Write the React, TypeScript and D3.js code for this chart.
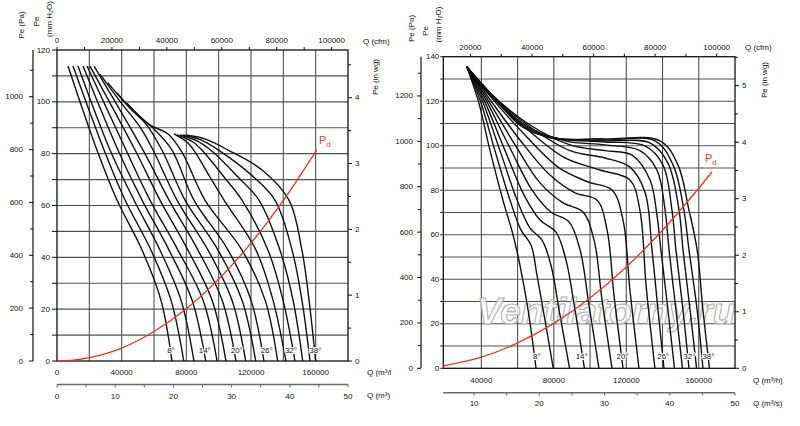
import React, { useEffect, useRef } from 'react';
import * as d3 from 'd3';

type Pt = [number, number];

// blade angles of the curve family (one curve per angle, left and right chart)
const bladeAngles = [8, 10, 12, 14, 16, 18, 20, 22, 24, 26, 28, 30, 32, 34, 36, 38];
const angleLabels = ['8°', '14°', '20°', '26°', '32°', '38°'];

// Q in 1000 m3/h, Pe in mm H2O
const leftCurves: Pt[][] = [
  [[6.8, 113.8], [24.7, 81.4], [37.1, 62.1], [52.6, 42.8], [64.3, 23.5], [71.1, 0]],
  [[9.9, 113.8], [29.1, 81.4], [42.1, 62.1], [58.1, 42.8], [70.5, 23.5], [78.4, 0]],
  [[13.0, 113.8], [32.8, 81.4], [47.6, 62.1], [63.7, 42.8], [76.7, 23.5], [84.7, 0]],
  [[16.1, 113.8], [37.7, 81.4], [52.6, 62.1], [69.3, 42.8], [83.5, 23.5], [92.0, 0]],
  [[18.6, 113.8], [42.7, 81.4], [57.5, 62.1], [74.8, 42.8], [90.3, 23.5], [99.0, 0]],
  [[20.4, 113.8], [48.3, 81.4], [63.7, 62.1], [81.0, 42.8], [95.9, 23.5], [104.5, 0]],
  [[22.9, 113.8], [53.2, 81.4], [69.3, 62.1], [87.2, 42.8], [102.1, 23.5], [110.7, 0]],
  [[26.6, 110.7], [40.2, 99.2], [51.3, 90.3], [59.4, 81.4], [74.2, 62.1], [93.4, 42.8], [108.2, 23.5], [116.7, 0]],
  [[31.5, 107.3], [43.9, 98.4], [55.1, 91.4], [64.9, 81.4], [79.2, 62.1], [99.6, 42.8], [114.4, 23.5], [122.9, 0]],
  [[37.1, 103.4], [48.9, 95.3], [60.6, 89.1], [71.1, 81.4], [84.7, 62.1], [105.8, 42.8], [120.0, 23.5], [128.0, 0]],
  [[43.3, 99.5], [57.5, 91.1], [68.7, 87.6], [77.3, 80.6], [91.5, 62.1], [114.4, 42.8], [128.7, 23.5], [136.5, 0]],
  [[72.4, 87.6], [81.0, 84.1], [85.4, 80.6], [94.6, 71.0], [103.3, 62.1], [123.1, 42.8], [133.6, 23.5], [141.6, 0]],
  [[74.2, 87.2], [84.1, 84.5], [90.3, 80.9], [103.3, 71.0], [114.4, 62.1], [130.5, 42.8], [139.8, 23.5], [147.2, 0]],
  [[76.1, 87.2], [86.6, 84.9], [95.9, 80.9], [111.3, 71.4], [124.9, 62.1], [137.9, 42.8], [146.0, 23.5], [152.0, 0]],
  [[77.9, 87.2], [89.1, 85.3], [100.8, 81.0], [119.4, 72.2], [134.8, 62.1], [145.4, 42.8], [151.5, 23.5], [156.5, 0]],
  [[79.8, 87.2], [91.5, 85.7], [105.8, 81.4], [126.8, 73.7], [143.5, 62.1], [151.5, 42.8], [155.9, 23.5], [160.0, 0]],
];

// right chart: most curves leave from one common point
const S: Pt = [31.9, 135.5];
const rightCurves: Pt[][] = [
  [S, [38.2, 120.5], [44.8, 97.8], [51.9, 75.6], [57.5, 59.9], [61.3, 46.4], [65.8, 26.2], [70.2, 0]],
  [S, [39.3, 120.5], [47.5, 97.8], [55.8, 75.6], [61.9, 62.1], [67.4, 55.4], [70.7, 41.9], [75.1, 21.7], [79.7, 0]],
  [S, [40.4, 120.5], [50.3, 97.8], [59.7, 75.6], [66.9, 63.0], [73.5, 57.6], [78.4, 46.4], [83.4, 23.9], [88.7, 0]],
  [S, [41.5, 120.5], [53.1, 97.8], [63.5, 77.9], [72.4, 66.6], [81.2, 61.2], [86.7, 48.7], [91.7, 26.2], [96.9, 0]],
  [S, [42.6, 120.5], [55.8, 99.0], [68.0, 80.1], [78.4, 70.2], [88.4, 65.8], [94.5, 53.2], [99.4, 28.4], [104.9, 0]],
  [S, [43.7, 120.5], [58.6, 100.4], [72.4, 83.3], [85.1, 74.3], [96.1, 70.2], [102.2, 57.6], [106.6, 30.7], [112.1, 0]],
  [S, [44.2, 121.4], [61.3, 102.6], [77.9, 86.8], [91.7, 78.8], [103.8, 75.6], [109.4, 62.1], [113.2, 32.9], [118.2, 0]],
  [S, [44.8, 122.3], [64.1, 104.8], [82.3, 90.4], [98.9, 83.7], [112.1, 80.1], [118.2, 66.6], [122.0, 35.2], [127.0, 0]],
  [S, [44.8, 122.8], [65.8, 107.1], [86.2, 94.5], [105.5, 89.1], [122.0, 84.6], [127.5, 71.1], [130.9, 37.4], [135.8, 0]],
  [S, [44.8, 123.3], [66.9, 108.4], [88.9, 97.8], [108.2, 94.5], [122.0, 90.4], [130.3, 79.2], [134.2, 53.2], [137.5, 26.2], [140.8, 0]],
  [S, [44.8, 123.7], [66.9, 109.3], [88.9, 100.4], [108.2, 97.8], [123.2, 95.8], [133.1, 84.6], [136.9, 68.9], [139.1, 53.2], [143.0, 26.2], [146.6, 0]],
  [S, [44.8, 123.7], [64.1, 109.3], [86.2, 102.2], [108.2, 100.4], [127.5, 97.8], [136.9, 89.1], [141.4, 71.1], [143.6, 53.2], [147.4, 26.2], [151.0, 0]],
  [S, [44.8, 123.7], [63.0, 108.4], [83.4, 103.1], [108.2, 101.7], [130.3, 99.9], [140.2, 91.4], [145.2, 71.1], [147.4, 53.2], [151.3, 26.2], [154.6, 0]],
  [S, [44.8, 123.7], [63.0, 108.4], [80.7, 103.5], [108.2, 102.2], [133.1, 101.3], [143.0, 92.2], [149.1, 71.1], [151.3, 53.2], [155.2, 26.2], [158.8, 0]],
  [S, [44.8, 123.7], [63.0, 108.4], [79.0, 103.5], [108.2, 102.6], [135.8, 102.2], [145.8, 91.4], [151.8, 71.1], [154.6, 53.2], [159.1, 26.2], [162.3, 0]],
  [[53.6, 115.6], [63.0, 109.3], [77.9, 103.5], [108.2, 103.1], [138.6, 102.2], [148.5, 91.4], [154.6, 71.1], [159.1, 53.2], [162.3, 26.2], [165.9, 0]],
];

// where the angle labels sit (Q, 1000 m3/h)
const leftLabelQ = [70.5, 91.4, 111.2, 129.7, 144.7, 159.8];
const rightLabelQ = [70.6, 95.4, 118.0, 140.4, 154.8, 165.3];

// dynamic pressure curve Pd
const pdLeftQ = [0, 10, 20, 40, 60, 80, 100, 120, 140, 160.6];
const pdLeftP = [0, 0.3, 1.3, 5.0, 11.4, 20.2, 31.6, 45.5, 62.0, 81.4];
const pdRightQ = [19, 40, 60, 80, 100, 120, 140, 160, 167.3];
const pdRightP = [1.1, 5.0, 11.4, 20.2, 31.6, 45.5, 62.0, 80.9, 88.2];

// axis labels
const leftQLabels = [0, 40000, 80000, 120000, 160000];
const rightQLabels = [40000, 80000, 120000, 160000];
const leftCfmLabels = [0, 20000, 40000, 60000, 80000, 100000];
const rightCfmLabels = [20000, 40000, 60000, 80000, 100000];
const leftQsLabels = [0, 10, 20, 30, 40, 50];
const rightQsLabels = [10, 20, 30, 40, 50];
const leftPaLabels = [0, 200, 400, 600, 800, 1000];
const rightPaLabels = [0, 200, 400, 600, 800, 1000, 1200];
const leftMmLabels = [0, 20, 40, 60, 80, 100, 120];
const rightMmLabels = [0, 20, 40, 60, 80, 100, 120, 140];
const leftInLabels = [0, 1, 2, 3, 4];
const rightInLabels = [0, 1, 2, 3, 4, 5];

const FONT = "'Liberation Sans', Arial, sans-serif";

interface ChartCfg {
  left: number; right: number; top: number; bottom: number;
  qMin: number; pMax: number;
  curves: Pt[][]; labelQ: number[]; labelP: number;
  pdQ: number[]; pdP: number[];
  qLabels: number[]; cfmLabels: number[]; qsLabels: number[];
  paLabels: number[]; mmLabels: number[]; inLabels: number[];
  paAxisX: number; paLabelX: number; mmLabelGap: number; mmTick: number;
  cfmLabelY: number; qLabelY: number; qsAxisY: number; qsLabelY: number;
  paTitle: Pt; peTitle: Pt; mmTitle: Pt; inTitle: Pt;
  cfmTitle: Pt; qTitle: Pt; qsTitle: Pt; qsTitleText: string;
  pdLabel: Pt; watermark: boolean;
}

const leftCfg: ChartCfg = {
  left: 57, right: 348, top: 50, bottom: 361, qMin: 0, pMax: 120,
  curves: leftCurves, labelQ: leftLabelQ, labelP: 4.2,
  pdQ: pdLeftQ, pdP: pdLeftP,
  qLabels: leftQLabels, cfmLabels: leftCfmLabels, qsLabels: leftQsLabels,
  paLabels: leftPaLabels, mmLabels: leftMmLabels, inLabels: leftInLabels,
  paAxisX: 33, paLabelX: 23, mmLabelGap: 7, mmTick: 5,
  cfmLabelY: 40.5, qLabelY: 372, qsAxisY: 384.5, qsLabelY: 396,
  paTitle: [21, 25], peTitle: [36.5, 21.5], mmTitle: [49, 19], inTitle: [375, 77],
  cfmTitle: [363, 41.5], qTitle: [367, 372], qsTitle: [367, 395.5], qsTitleText: 'Q (m³)',
  pdLabel: [319, 144], watermark: false,
};

const rightCfg: ChartCfg = {
  left: 443.3, right: 735, top: 56.7, bottom: 368.3, qMin: 19, pMax: 140,
  curves: rightCurves, labelQ: rightLabelQ, labelP: 5.2,
  pdQ: pdRightQ, pdP: pdRightP,
  qLabels: rightQLabels, cfmLabels: rightCfmLabels, qsLabels: rightQsLabels,
  paLabels: rightPaLabels, mmLabels: rightMmLabels, inLabels: rightInLabels,
  paAxisX: 421, paLabelX: 413, mmLabelGap: 4, mmTick: 3,
  cfmLabelY: 47.5, qLabelY: 380, qsAxisY: 392.7, qsLabelY: 403.5,
  paTitle: [411, 28.5], peTitle: [425, 31], mmTitle: [437.5, 24.5], inTitle: [764, 80],
  cfmTitle: [745, 47.5], qTitle: [753, 380], qsTitle: [753, 403.5], qsTitleText: 'Q (m³/s)',
  pdLabel: [705, 162], watermark: true,
};

function vText(g: any, p: Pt, build: (t: any) => void) {
  const t = g.append('text')
    .attr('transform', `translate(${p[0]},${p[1]}) rotate(-90)`)
    .attr('text-anchor', 'middle')
    .attr('dominant-baseline', 'central');
  build(t);
}

function drawChart(root: any, c: ChartCfg) {
  const x = d3.scaleLinear().domain([c.qMin, 180]).range([c.left, c.right]);
  const y = d3.scaleLinear().domain([0, c.pMax]).range([c.bottom, c.top]);
  const xCfm = d3.scaleLinear().domain([(c.qMin * 1000) / 1.699, 180000 / 1.699]).range([c.left, c.right]);
  const xQs = d3.scaleLinear().domain([c.qMin / 3.6, 50]).range([c.left, c.right]);
  const yPa = d3.scaleLinear().domain([0, c.pMax * 9.80665]).range([c.bottom, c.top]);
  const yIn = d3.scaleLinear().domain([0, c.pMax / 25.4]).range([c.bottom, c.top]);

  const g = root.append('g').attr('font-family', FONT).attr('font-size', 8).attr('fill', '#111');

  // grid
  const grid = g.append('g').attr('stroke', '#505050').attr('stroke-width', 1.1);
  d3.range(20, 180, 20).filter((q) => q > c.qMin + 3).forEach((q) => {
    grid.append('line').attr('x1', x(q)).attr('x2', x(q)).attr('y1', c.top).attr('y2', c.bottom);
  });
  d3.range(10, c.pMax, 10).forEach((p) => {
    grid.append('line').attr('x1', c.left).attr('x2', c.right).attr('y1', y(p)).attr('y2', y(p));
  });

  // watermark
  if (c.watermark) {
    g.append('text')
      .attr('x', 477).attr('y', 324)
      .attr('font-size', 37).attr('font-style', 'italic').attr('font-weight', 'bold')
      .attr('fill', '#fff').attr('fill-opacity', 0.8)
      .attr('stroke', '#b0b0b0').attr('stroke-width', 1.1)
      .text('Ventilatorny.ru');
  }

  // frame
  g.append('rect')
    .attr('x', c.left).attr('y', c.top)
    .attr('width', c.right - c.left).attr('height', c.bottom - c.top)
    .attr('fill', 'none').attr('stroke', '#111').attr('stroke-width', 1.3);

  // top axis: cfm
  const cfmMax = 180000 / 1.699;
  d3.range(0, cfmMax, 10000).filter((v) => v >= xCfm.domain()[0]).forEach((v) => {
    g.append('line').attr('x1', xCfm(v)).attr('x2', xCfm(v)).attr('y1', c.top).attr('y2', c.top - 3)
      .attr('stroke', '#111').attr('stroke-width', 1);
  });
  c.cfmLabels.forEach((v) => {
    g.append('text').attr('x', xCfm(v)).attr('y', c.cfmLabelY)
      .attr('text-anchor', 'middle').attr('dominant-baseline', 'central').text(v);
  });
  g.append('text').attr('x', c.cfmTitle[0]).attr('y', c.cfmTitle[1])
    .attr('dominant-baseline', 'central').text('Q (cfm)');

  // left axes: mm H2O ticks and labels
  d3.range(0, c.pMax + 0.1, 10).forEach((p) => {
    g.append('line').attr('x1', c.left - c.mmTick).attr('x2', c.left).attr('y1', y(p)).attr('y2', y(p))
      .attr('stroke', '#111').attr('stroke-width', 1);
  });
  c.mmLabels.forEach((p) => {
    g.append('text').attr('x', c.left - c.mmLabelGap).attr('y', y(p))
      .attr('text-anchor', 'end').attr('dominant-baseline', 'central').text(p);
  });

  // Pa axis
  g.append('line').attr('x1', c.paAxisX).attr('x2', c.paAxisX).attr('y1', c.top).attr('y2', c.bottom)
    .attr('stroke', '#111').attr('stroke-width', 1.2);
  d3.range(0, c.pMax * 9.80665, 100).forEach((v) => {
    const major = v % 200 === 0;
    g.append('line').attr('x1', c.paAxisX - (major ? 4 : 3)).attr('x2', c.paAxisX)
      .attr('y1', yPa(v)).attr('y2', yPa(v)).attr('stroke', '#111').attr('stroke-width', 1);
  });
  c.paLabels.forEach((v) => {
    g.append('text').attr('x', c.paLabelX).attr('y', yPa(v))
      .attr('text-anchor', 'end').attr('dominant-baseline', 'central').text(v);
  });

  vText(g, c.paTitle, (t) => t.text('Pe (Pa)'));
  vText(g, c.peTitle, (t) => t.text('Pe'));
  vText(g, c.mmTitle, (t) => {
    t.append('tspan').text('(mm H');
    t.append('tspan').attr('font-size', 5.5).attr('dy', 2).text('2');
    t.append('tspan').attr('dy', -2).text('O)');
  });

  // right axis: in wg
  d3.range(0, c.pMax / 25.4, 0.5).forEach((v) => {
    const major = v % 1 === 0;
    g.append('line').attr('x1', c.right).attr('x2', c.right + (major ? 4 : 3))
      .attr('y1', yIn(v)).attr('y2', yIn(v)).attr('stroke', '#111').attr('stroke-width', 1);
  });
  c.inLabels.forEach((v) => {
    g.append('text').attr('x', c.right + 7).attr('y', yIn(v))
      .attr('dominant-baseline', 'central').text(v);
  });
  vText(g, c.inTitle, (t) => t.text('Pe (in wg)'));

  // bottom axis: m3/h
  c.qLabels.forEach((v) => {
    g.append('text').attr('x', x(v / 1000)).attr('y', c.qLabelY)
      .attr('text-anchor', 'middle').attr('dominant-baseline', 'central').text(v);
  });
  g.append('text').attr('x', c.qTitle[0]).attr('y', c.qTitle[1])
    .attr('dominant-baseline', 'central').text('Q (m³/h)');

  // second bottom axis: m3/s
  g.append('line').attr('x1', c.left).attr('x2', c.right).attr('y1', c.qsAxisY).attr('y2', c.qsAxisY)
    .attr('stroke', '#6a6a6a').attr('stroke-width', 1.6);
  d3.range(0, 50.1, 5).filter((v) => v >= xQs.domain()[0]).forEach((v) => {
    g.append('line').attr('x1', xQs(v)).attr('x2', xQs(v)).attr('y1', c.qsAxisY).attr('y2', c.qsAxisY + 3)
      .attr('stroke', '#6a6a6a').attr('stroke-width', 1);
  });
  c.qsLabels.forEach((v) => {
    g.append('text').attr('x', xQs(v)).attr('y', c.qsLabelY)
      .attr('text-anchor', 'middle').attr('dominant-baseline', 'central').text(v);
  });
  g.append('text').attr('x', c.qsTitle[0]).attr('y', c.qsTitle[1])
    .attr('dominant-baseline', 'central').text(c.qsTitleText);

  // fan curves
  const line = d3.line<Pt>()
    .x((d) => x(d[0]))
    .y((d) => y(d[1]))
    .curve(d3.curveCatmullRom.alpha(0.5));
  const curves = g.append('g').attr('fill', 'none').attr('stroke', '#111').attr('stroke-width', 1.4);
  bladeAngles.forEach((a, i) => {
    curves.append('path').attr('d', line(c.curves[i])).attr('data-angle', a);
  });

  // dynamic pressure
  const pdPts: Pt[] = c.pdQ.map((q, i) => [q, c.pdP[i]]);
  g.append('path')
    .attr('d', d3.line<Pt>().x((d) => x(d[0])).y((d) => y(d[1])).curve(d3.curveMonotoneX)(pdPts))
    .attr('fill', 'none').attr('stroke', '#e0382f').attr('stroke-width', 1.3);
  const pd = g.append('text').attr('x', c.pdLabel[0]).attr('y', c.pdLabel[1])
    .attr('fill', '#e0382f').attr('font-size', 11);
  pd.append('tspan').text('P');
  pd.append('tspan').attr('font-size', 8).attr('dy', 3).text('d');

  // blade angle labels
  angleLabels.forEach((lab, i) => {
    g.append('text').attr('x', x(c.labelQ[i])).attr('y', y(c.labelP))
      .attr('text-anchor', 'middle').attr('dominant-baseline', 'central')
      .attr('stroke', '#fff').attr('stroke-width', 2.2).attr('paint-order', 'stroke')
      .text(lab);
  });
}

const App: React.FC = () => {
  const svgRef = useRef<SVGSVGElement>(null);

  useEffect(() => {
    if (!svgRef.current) return;
    const svg = d3.select(svgRef.current);
    svg.selectAll('*').remove();

    // the left chart is cut off where the right one begins
    svg.append('defs').append('clipPath').attr('id', 'leftClip')
      .append('rect').attr('x', 0).attr('y', 0).attr('width', 391).attr('height', 426);

    const left = svg.append('g').attr('clip-path', 'url(#leftClip)');
    drawChart(left, leftCfg);
    const right = svg.append('g');
    drawChart(right, rightCfg);
  }, []);

  return (
    <svg
      ref={svgRef}
      width={800}
      height={426}
      style={{ position: 'absolute', left: 0, top: 0, background: '#fff' }}
    />
  );
};

export default App;
